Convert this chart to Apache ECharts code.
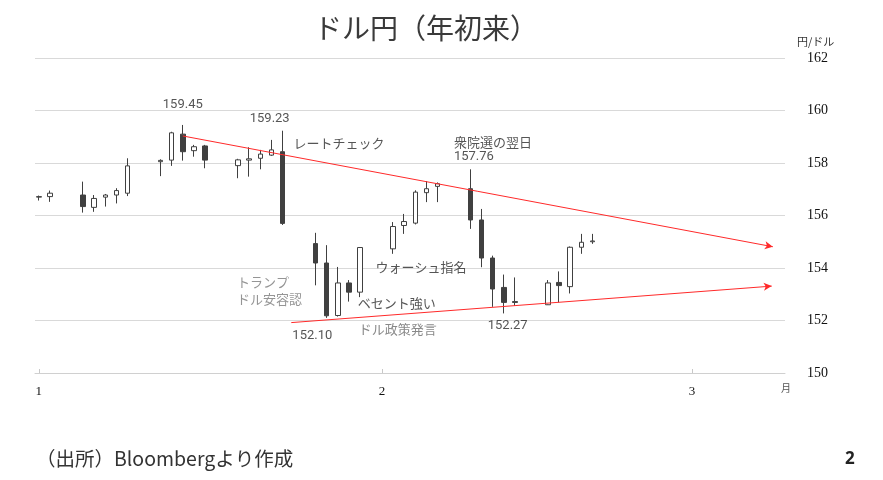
<!DOCTYPE html>
<html>
<head>
<meta charset="utf-8">
<script src="https://cdn.jsdelivr.net/npm/echarts@6/dist/echarts.min.js"></script>
<style>
html,body{margin:0;padding:0;background:#fff;}
#chart{width:883px;height:480px;}
</style>
</head>
<body>
<div id="chart"></div>
<script>
// ---- data ----
const dates = ['2026-01-01','2026-01-02','2026-01-05','2026-01-06','2026-01-07','2026-01-08','2026-01-09',
  '2026-01-12','2026-01-13','2026-01-14','2026-01-15','2026-01-16',
  '2026-01-19','2026-01-20','2026-01-21','2026-01-22','2026-01-23',
  '2026-01-26','2026-01-27','2026-01-28','2026-01-29','2026-01-30',
  '2026-02-02','2026-02-03','2026-02-04','2026-02-05','2026-02-06',
  '2026-02-09','2026-02-10','2026-02-11','2026-02-12','2026-02-13',
  '2026-02-16','2026-02-17','2026-02-18','2026-02-19','2026-02-20'];
const opens  = [156.70,156.72,156.78,156.31,156.70,156.78,156.85, 158.05,158.11,159.10,158.47,158.65, 157.90,158.11,158.18,158.30,158.43, 154.93,154.19,152.19,153.43,153.08, 154.73,155.62,155.71,156.87,157.11, 157.02,155.83,154.38,153.26,152.72, 152.60,153.45,153.29,154.79,155.00];
const closes = [156.72,156.85,156.34,156.65,156.78,156.95,157.89, 158.10,159.15,158.43,158.62,158.11, 158.12,158.16,158.34,158.50,155.70, 154.19,152.18,153.43,153.08,154.78, 155.58,155.77,156.89,157.02,157.21, 155.83,154.38,153.20,152.69,152.69, 153.43,153.33,154.79,154.98,155.03];
const lows   = [156.57,156.52,156.11,156.14,156.34,156.46,156.74, 157.50,157.89,158.09,158.24,157.80, 157.42,157.48,157.76,158.27,155.64, 153.34,152.10,152.15,152.72,152.89, 154.54,155.30,155.66,156.51,156.51, 155.49,154.03,152.52,152.27,152.56, 152.59,152.69,153.03,154.54,154.92];
const highs  = [156.76,156.95,157.29,156.78,156.82,157.04,158.18, 158.14,159.19,159.45,158.69,158.69, 158.16,158.60,158.50,158.88,159.23, 155.34,154.87,154.04,153.54,154.80, 155.75,156.06,156.96,157.31,157.26, 157.76,156.25,154.47,153.75,153.64, 153.54,153.87,154.82,155.30,155.30];

// trend lines: [day offset from Jan 1, rate]
const upperTrend = [[13.0,159.03],[66.3,154.81]];
const lowerTrend = [[22.8,151.92],[66.2,153.31]];

// annotations
const annoTexts  = ['159.45','159.23','レートチェック','衆院選の翌日','157.76','トランプ','ドル安容認','ウォーシュ指名','ベセント強い','ドル政策発言','152.10','152.27'];
const annoDays   = [13.0, 20.85, 23.0, 37.5, 39.3, 17.9, 17.9, 30.4, 28.8, 28.9, 24.7, 42.35];
const annoValues = [160.21,159.70,158.75,158.81,158.22,153.48,152.82,154.04,152.66,151.68,151.41,151.79];

const monthTicks  = [0, 31, 59];
const monthLabels = ['1', '2', '3'];
const yMin = 150, yMax = 162, yStep = 2;

const title  = 'ドル円（年初来）';
const source = '（出所）Bloombergより作成';
const yUnit  = '円/ドル';
const xUnit  = '月';
const pageNo = '2';

// ---- build ----
const base = Date.UTC(2026,0,1);
function dayIndex(s){ const p=s.split('-').map(Number); return (Date.UTC(p[0],p[1]-1,p[2])-base)/86400000; }
const candleData = dates.map((d,i)=>[dayIndex(d), opens[i], closes[i], lows[i], highs[i]]);

const leftAligned = {'レートチェック':1,'衆院選の翌日':1,'トランプ':1,'ドル安容認':1,'ウォーシュ指名':1,'ベセント強い':1,'ドル政策発言':1};
const greyText = {'トランプ':'#7a7a7a','ドル安容認':'#7a7a7a','ドル政策発言':'#6a6a6a'};
const annoData = annoTexts.map((t,i)=>{
  const isNum = /^[0-9.]+$/.test(t);
  return {
    value:[annoDays[i], annoValues[i]],
    label:{
      formatter:t,
      align: leftAligned[t] ? 'left' : 'center',
      color: greyText[t] || '#2a2a2a',
      fontSize: isNum ? 13 : 13,
      fontFamily: isNum ? 'Roboto, "Noto Sans", sans-serif' : '"Noto Sans CJK JP", sans-serif'
    }
  };
});

const chart = echarts.init(document.getElementById('chart'));
chart.setOption({
  animation:false,
  backgroundColor:'#ffffff',
  title:{
    text:title, left:421, top:9, textAlign:'center',
    textStyle:{fontSize:28, fontWeight:'normal', color:'#3a3a3a', fontFamily:'"Noto Sans CJK JP", sans-serif'}
  },
  grid:{left:35, right:98, top:58, bottom:107},
  xAxis:{
    type:'value', min:-0.35, max:67.4,
    axisLine:{show:true, lineStyle:{color:'#d0d0d0'}},
    axisTick:{show:true, inside:true, length:4, customValues:monthTicks, lineStyle:{color:'#c8c8c8'}},
    axisLabel:{show:true, customValues:monthTicks, margin:12, color:'#111', fontSize:13,
      fontFamily:'"Liberation Serif", "DejaVu Serif", serif',
      formatter:(v)=>{ const k=monthTicks.indexOf(v); return k>=0?monthLabels[k]:''; }},
    splitLine:{show:false}
  },
  yAxis:{
    type:'value', position:'right', min:yMin, max:yMax, interval:yStep,
    axisLine:{show:false}, axisTick:{show:false},
    axisLabel:{margin:22, color:'#111', fontSize:14, align:'left',
      fontFamily:'"Liberation Serif", "DejaVu Serif", serif'},
    splitLine:{lineStyle:{color:'#d9d9d9', width:1}}
  },
  series:[
    {
      type:'candlestick',
      data:candleData,
      encode:{x:0, y:[1,2,3,4]},
      barWidth:5,
      itemStyle:{color:'#ffffff', color0:'#404040', borderColor:'#404040', borderColor0:'#404040', borderWidth:1},
      markLine:{
        silent:true, symbol:['none','arrow'], symbolSize:[6,8],
        label:{show:false},
        lineStyle:{color:'#ff2a2a', width:1, type:'solid'},
        data:[
          [{coord:upperTrend[0]},{coord:upperTrend[1]}],
          [{coord:lowerTrend[0]},{coord:lowerTrend[1]}]
        ]
      },
      z:3
    },
    {
      type:'scatter', data:annoData, symbolSize:0, silent:true,
      label:{show:true, position:'inside', verticalAlign:'middle'},
      z:5
    }
  ],
  graphic:[
    {type:'text', left:797, top:36, style:{text:yUnit, fontSize:11, fill:'#333', fontFamily:'"Noto Sans CJK JP", sans-serif'}},
    {type:'text', left:781, top:383, style:{text:xUnit, fontSize:10, fill:'#555', fontFamily:'"Noto Sans CJK JP", sans-serif'}},
    {type:'text', left:36, top:449, style:{text:source, fontSize:19.5, fill:'#333', fontFamily:'"Noto Sans CJK JP", sans-serif'}},
    {type:'text', left:845, top:451, style:{text:pageNo, fontSize:17, fontWeight:'bold', fill:'#222', fontFamily:'"Noto Sans", sans-serif'}}
  ]
});
</script>
</body>
</html>
